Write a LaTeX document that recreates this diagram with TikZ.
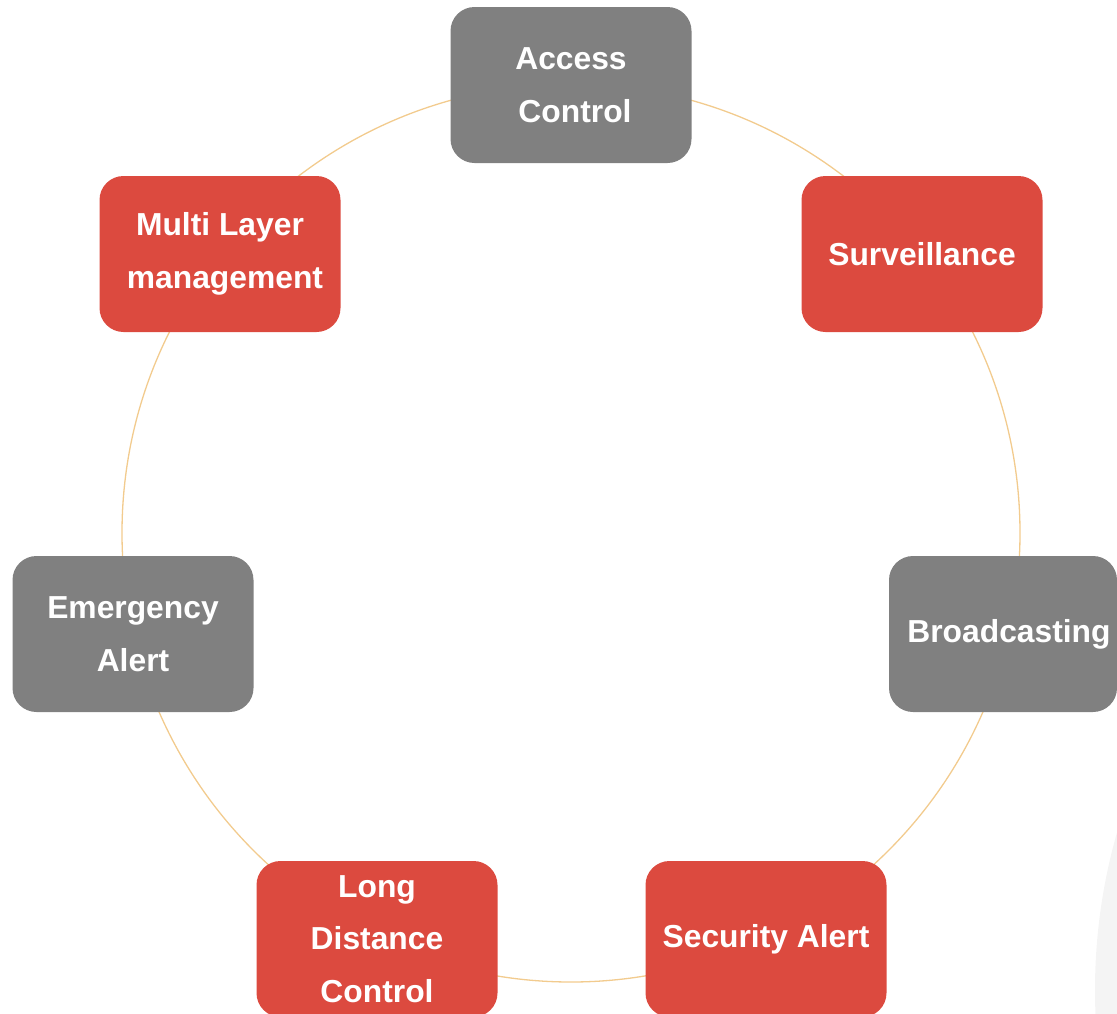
\documentclass[tikz,border=0pt]{standalone}
\usepackage{fontspec}
\setmainfont{Liberation Sans}
\definecolor{boxgray}{HTML}{808080}
\definecolor{boxred}{HTML}{DC4A3F}
\definecolor{ringc}{HTML}{F2CB8E}
\definecolor{ghost}{HTML}{F4F4F4}
\begin{document}
\begin{tikzpicture}[x=1pt,y=-1pt,
  box/.style={rounded corners=24pt, minimum width=241pt, minimum height=156pt,
    inner sep=0pt, text=white, align=center,
    font=\fontsize{31.8}{52.5}\selectfont\bfseries},
  graybox/.style={box, fill=boxgray},
  redbox/.style={box, fill=boxred},
  ring/.style={draw=ringc, line width=1.3pt}]
\useasboundingbox (0,0) rectangle (1117,1013);
\clip (0,0) rectangle (1117,1013);
\fill[ghost] (1666,990) circle[radius=571pt];
\draw[ring] (571,533) circle[radius=449pt];
\node[graybox] (access) at (571,85) {Access\\ \hspace*{8pt}Control};
\node[redbox] (surv) at (922,254) {Surveillance};
\node[graybox, minimum width=228pt] (broad) at (1003,634) {\hspace*{12pt}Broadcasting};
\node[redbox] (sec) at (766,939) {Security Alert};
\node[redbox] (long) at (377,939) {Long\\ Distance\\ Control};
\node[graybox] (emerg) at (133,634) {Emergency\\ Alert};
\node[redbox] (multi) at (220,254) {Multi Layer\\ \hspace*{10pt}management};
\end{tikzpicture}
\end{document}
